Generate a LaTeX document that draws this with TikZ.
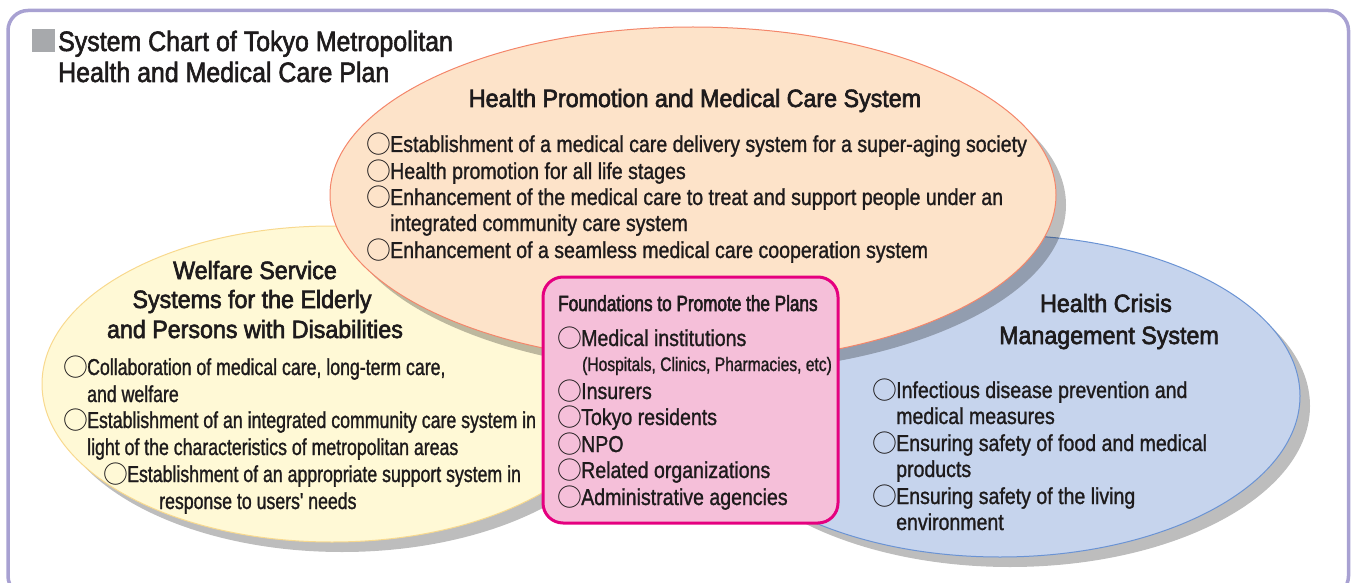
\documentclass[tikz,border=0pt]{standalone}
\usepackage{fontspec}
\usepackage{graphicx}
\setmainfont{Liberation Sans}
\newfontfamily\ftitle[FakeStretch=0.89,FakeBold=2]{Liberation Sans}
\newfontfamily\fhead[FakeStretch=0.93,FakeBold=2.5]{Liberation Sans}
\newfontfamily\fbody[FakeStretch=0.85,FakeBold=1.2]{Liberation Sans}
\newfontfamily\fwel[FakeStretch=0.77,FakeBold=1.2]{Liberation Sans}
\newfontfamily\fnar[FakeStretch=0.80,FakeBold=1.2]{Liberation Sans}
\newfontfamily\fnarh[FakeStretch=0.78,FakeBold=2.5]{Liberation Sans}
\newfontfamily\cjkfont{Noto Sans CJK JP}
\newcommand\oo{\makebox[1em][c]{\raisebox{-0.05em}{\scalebox{1.08}{\cjkfont ○}}}}
\newcommand\ooph{\hphantom{\makebox[1em][l]{}}}
\definecolor{ink}{HTML}{1E1B1C}
\definecolor{frameC}{HTML}{A8A1D2}
\definecolor{sqC}{HTML}{A7A9AC}
\definecolor{orF}{HTML}{FDE3C9}
\definecolor{orB}{HTML}{F4866A}
\definecolor{yeF}{HTML}{FFF9D6}
\definecolor{yeB}{HTML}{F8D98E}
\definecolor{blF}{HTML}{C6D4ED}
\definecolor{blB}{HTML}{6A93D4}
\definecolor{piF}{HTML}{F5BFD9}
\definecolor{piB}{HTML}{E5007F}
\tikzset{
  shadowC/.style={fill=black, fill opacity=0.26},
  txt/.style={inner sep=0pt, anchor=base west, text=ink},
  titletxt/.style={txt, font=\fontsize{28}{31}\ftitle},
  headtxt/.style={txt, anchor=base, font=\fontsize{25}{28}\fhead},
  bodytxt/.style={txt, font=\fontsize{23}{26}\fbody},
  weltxt/.style={txt, font=\fontsize{23}{26}\fwel},
  nartxt/.style={txt, font=\fontsize{22}{25}\fnarh},
  smalltxt/.style={txt, font=\fontsize{19.5}{22}\fnar},
}
\begin{document}
\begin{tikzpicture}[x=1pt,y=-1pt]
\useasboundingbox (0,0) rectangle (1352,583);
% frame
\draw[frameC, line width=3.5, rounded corners=20] (8,10.5) rectangle (1348.5,596);
% title
\fill[sqC] (32,29) rectangle (55,52);
\node[titletxt] (title1) at (58,51) {System Chart of Tokyo Metropolitan};
\node[titletxt] (title2) at (58,82) {Health and Medical Care Plan};
% yellow ellipse
\fill[shadowC] (342,394) ellipse [x radius=290, y radius=158];
\filldraw[fill=yeF, draw=yeB, line width=1] (332,384) ellipse [x radius=290, y radius=158];
% blue ellipse
\fill[shadowC] (1010,406) ellipse [x radius=300, y radius=161];
\filldraw[fill=blF, draw=blB, line width=1] (1000,396) ellipse [x radius=300, y radius=161];
% orange ellipse
\fill[shadowC] (703,205) ellipse [x radius=363, y radius=168];
\filldraw[fill=orF, draw=orB, line width=1] (693,195) ellipse [x radius=363, y radius=168];
% pink box
\filldraw[fill=piF, draw=piB, line width=3, rounded corners=20] (543,277) rectangle (838,523);

% top texts
\node[headtxt] (th) at (695,107) {Health Promotion and Medical Care System};
\node[bodytxt] (t1) at (367,152) {\oo Establishment of a medical care delivery system for a super-aging society};
\node[bodytxt] (t2) at (367,179) {\oo Health promotion for all life stages};
\node[bodytxt] (t3) at (367,205) {\oo Enhancement of the medical care to treat and support people under an};
\node[bodytxt] (t4) at (367,231) {\ooph integrated community care system};
\node[bodytxt] (t5) at (367,258) {\oo Enhancement of a seamless medical care cooperation system};

% welfare texts
\node[headtxt] (wh1) at (255,279) {Welfare Service};
\node[headtxt] (wh2) at (252,308) {Systems for the Elderly};
\node[headtxt] (wh3) at (255,338) {and Persons with Disabilities};
\node[weltxt] (w1) at (64,375) {\oo Collaboration of medical care, long-term care,};
\node[weltxt] (w2) at (64,402) {\ooph and welfare};
\node[weltxt] (w3) at (64,428) {\oo Establishment of an integrated community care system in};
\node[weltxt] (w4) at (64,455) {\ooph light of the characteristics of metropolitan areas};
\node[weltxt] (w5) at (104,482) {\oo Establishment of an appropriate support system in};
\node[weltxt] (w6) at (159,509) {response to users' needs};

% foundations texts
\node[nartxt] (fh) at (558,311) {Foundations to Promote the Plans};
\node[bodytxt] (f1) at (558,346) {\oo Medical institutions};
\node[smalltxt] (f2) at (582,371) {(Hospitals, Clinics, Pharmacies, etc)};
\node[bodytxt] (f3) at (558,399) {\oo Insurers};
\node[bodytxt] (f4) at (558,425) {\oo Tokyo residents};
\node[bodytxt] (f5) at (558,452) {\oo NPO};
\node[bodytxt] (f6) at (558,478) {\oo Related organizations};
\node[bodytxt] (f7) at (558,505) {\oo Administrative agencies};

% crisis texts
\node[headtxt] (bh1) at (1106,312) {Health Crisis};
\node[headtxt] (bh2) at (1109,344) {Management System};
\node[bodytxt] (b1) at (873,398) {\oo Infectious disease prevention and};
\node[bodytxt] (b2) at (873,424) {\ooph medical measures};
\node[bodytxt] (b3) at (873,451) {\oo Ensuring safety of food and medical};
\node[bodytxt] (b4) at (873,477) {\ooph products};
\node[bodytxt] (b5) at (873,504) {\oo Ensuring safety of the living};
\node[bodytxt] (b6) at (873,530) {\ooph environment};
\end{tikzpicture}
\end{document}
